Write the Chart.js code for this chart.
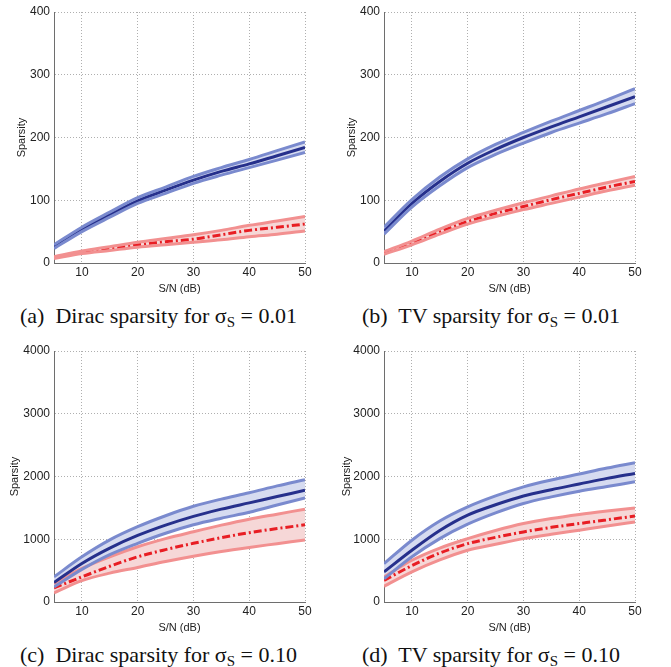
<!DOCTYPE html>
<html>

<head>
    <title>Sparsity vs S/N</title>
    <script src="https://cdn.jsdelivr.net/npm/chart.js@4.4.0/dist/chart.umd.min.js"></script>
    <style>
        body {
            margin: 0;
            background: #fff;
            font-family: "Liberation Sans", Arial, sans-serif;
        }

        .panel {
            position: absolute;
        }

        .caption {
            position: absolute;
            font-family: "Liberation Serif", "Times New Roman", serif;
            font-size: 22px;
            line-height: 24px;
            color: #111;
            white-space: nowrap;
        }

        .caption sub {
            font-size: 15px;
            vertical-align: -4px;
        }
    </style>
</head>

<body>
    <div class="panel" style="left: 0px; top: 0px;"><canvas id="chart-a" width="325" height="296"></canvas></div>
    <div class="panel" style="left: 330px; top: 0px;"><canvas id="chart-b" width="325" height="296"></canvas></div>
    <div class="panel" style="left: 0px; top: 339px;"><canvas id="chart-c" width="325" height="296"></canvas></div>
    <div class="panel" style="left: 330px; top: 339px;"><canvas id="chart-d" width="325" height="296"></canvas></div>

    <div class="caption" style="left: 20px; top: 304px;">(a)&nbsp; Dirac sparsity for &sigma;<sub>S</sub> = 0.01</div>
    <div class="caption" style="left: 362px; top: 304px;">(b)&nbsp; TV sparsity for &sigma;<sub>S</sub> = 0.01</div>
    <div class="caption" style="left: 20px; top: 643px;">(c)&nbsp; Dirac sparsity for &sigma;<sub>S</sub> = 0.10</div>
    <div class="caption" style="left: 362px; top: 643px;">(d)&nbsp; TV sparsity for &sigma;<sub>S</sub> = 0.10</div>

    <script>
        // S/N values (dB) and x tick labels
        var snr = [5, 10, 15, 20, 25, 30, 35, 40, 45, 50];
        var xTicks = [10, 20, 30, 40, 50];

        // (a) Dirac sparsity, sigma_S = 0.01
        var aBlueMean = [26, 53, 77, 99, 116, 132, 146, 158, 171, 184];
        var aBlueUpper = [29, 57, 81, 104, 121, 138, 152, 165, 179, 193];
        var aBlueLower = [23, 50, 73, 95, 111, 127, 140, 152, 164, 176];
        var aRedMean = [9, 17, 23, 29, 34, 38, 45, 52, 57, 62];
        var aRedUpper = [10, 19, 26, 33, 39, 45, 52, 60, 67, 74];
        var aRedLower = [7, 15, 20, 25, 29, 33, 37, 42, 46, 51];

        // (b) TV sparsity, sigma_S = 0.01
        var bBlueMean = [51, 95, 130, 159, 181, 200, 217, 233, 249, 265];
        var bBlueUpper = [57, 101, 137, 166, 189, 208, 226, 243, 260, 278];
        var bBlueLower = [46, 89, 123, 152, 173, 191, 208, 223, 238, 254];
        var bRedMean = [16, 32, 50, 66, 79, 90, 101, 111, 121, 130];
        var bRedUpper = [18, 35, 54, 71, 84, 96, 107, 118, 128, 138];
        var bRedLower = [14, 29, 46, 62, 74, 85, 95, 105, 115, 124];

        // (c) Dirac sparsity, sigma_S = 0.10
        var cBlueMean = [310, 615, 860, 1060, 1225, 1365, 1480, 1580, 1680, 1780];
        var cBlueUpper = [400, 720, 990, 1200, 1375, 1525, 1640, 1740, 1850, 1950];
        var cBlueLower = [240, 520, 755, 935, 1095, 1230, 1335, 1430, 1545, 1660];
        var cRedMean = [225, 400, 570, 720, 835, 935, 1025, 1105, 1170, 1230];
        var cRedUpper = [290, 535, 720, 880, 1010, 1120, 1225, 1320, 1400, 1480];
        var cRedLower = [145, 340, 460, 550, 645, 730, 805, 870, 930, 990];

        // (d) TV sparsity, sigma_S = 0.10
        var dBlueMean = [480, 825, 1140, 1385, 1550, 1690, 1790, 1880, 1970, 2050];
        var dBlueUpper = [610, 985, 1290, 1515, 1690, 1835, 1945, 2040, 2135, 2220];
        var dBlueLower = [370, 720, 1010, 1240, 1420, 1570, 1675, 1765, 1840, 1915];
        var dRedMean = [345, 580, 780, 930, 1030, 1117, 1190, 1250, 1310, 1370];
        var dRedUpper = [400, 665, 860, 1010, 1140, 1250, 1330, 1395, 1450, 1500];
        var dRedLower = [250, 480, 670, 825, 920, 1010, 1080, 1145, 1210, 1277];

        var blueEdge = 'rgb(122, 138, 206)';
        var blueFill = 'rgb(214, 219, 240)';
        var blueMean = 'rgb(38, 48, 140)';
        var redEdge = 'rgb(242, 144, 144)';
        var redFill = 'rgb(246, 215, 215)';
        var redMean = 'rgb(232, 30, 36)';

        var tickFont = { family: '"Liberation Sans", Arial, sans-serif', size: 12 };
        var gridColor = 'rgb(175, 175, 175)';
        var axisColor = 'rgb(110, 110, 110)';

        function toPoints(values) {
            return values.map(function(v, i) {
                return { x: snr[i], y: v };
            });
        }

        // upper edge fills down to the lower edge (next dataset)
        function band(upper, lower, edge, fill) {
            return [{
                data: toPoints(upper),
                borderColor: edge,
                backgroundColor: fill,
                borderWidth: 3,
                fill: '+1'
            }, {
                data: toPoints(lower),
                borderColor: edge,
                borderWidth: 3,
                fill: false
            }];
        }

        function makePanel(id, yMax, yStep, leftPad, blue, red) {
            var datasets = []
                .concat(band(blue[1], blue[2], blueEdge, blueFill))
                .concat([{
                    data: toPoints(blue[0]),
                    borderColor: blueMean,
                    borderWidth: 3,
                    fill: false
                }])
                .concat(band(red[1], red[2], redEdge, redFill))
                .concat([{
                    data: toPoints(red[0]),
                    borderColor: redMean,
                    borderWidth: 3,
                    borderDash: [8, 3, 2, 3],
                    fill: false
                }]);

            return new Chart(document.getElementById(id), {
                type: 'line',
                data: { datasets: datasets },
                options: {
                    responsive: false,
                    animation: false,
                    layout: { padding: { top: 12, right: 20, left: leftPad, bottom: 0 } },
                    elements: {
                        point: { radius: 0 },
                        line: { cubicInterpolationMode: 'monotone', borderCapStyle: 'butt' }
                    },
                    plugins: {
                        legend: { display: false },
                        tooltip: { enabled: false },
                        filler: { drawTime: 'beforeDatasetsDraw' }
                    },
                    scales: {
                        x: {
                            type: 'linear',
                            min: 5,
                            max: 50,
                            afterBuildTicks: function(scale) {
                                scale.ticks = xTicks.map(function(v) { return { value: v }; });
                            },
                            afterFit: function(scale) { scale.height = 33; },
                            grid: { color: gridColor, lineWidth: 1, drawTicks: false },
                            border: { display: true, color: axisColor, width: 1, dash: [1, 2] },
                            ticks: {
                                font: tickFont,
                                color: '#222',
                                padding: 2,
                                maxRotation: 0,
                                callback: function(v) { return String(v); }
                            },
                            title: {
                                display: true,
                                text: 'S/N (dB)',
                                font: { family: tickFont.family, size: 11 },
                                color: '#222',
                                padding: { top: 0, bottom: 0 }
                            }
                        },
                        y: {
                            min: 0,
                            max: yMax,
                            afterFit: function(scale) { scale.width = 54 - leftPad; },
                            grid: { color: gridColor, lineWidth: 1, drawTicks: false },
                            border: { display: true, color: axisColor, width: 1, dash: [1, 2] },
                            ticks: {
                                font: tickFont,
                                color: '#222',
                                padding: 4,
                                stepSize: yStep,
                                callback: function(v) { return String(v); }
                            },
                            title: {
                                display: true,
                                text: 'Sparsity',
                                font: { family: tickFont.family, size: 11 },
                                color: '#222',
                                padding: { top: 0, bottom: 0 }
                            }
                        }
                    }
                }
            });
        }

        makePanel('chart-a', 400, 100, 15, [aBlueMean, aBlueUpper, aBlueLower], [aRedMean, aRedUpper, aRedLower]);
        makePanel('chart-b', 400, 100, 15, [bBlueMean, bBlueUpper, bBlueLower], [bRedMean, bRedUpper, bRedLower]);
        makePanel('chart-c', 4000, 1000, 8, [cBlueMean, cBlueUpper, cBlueLower], [cRedMean, cRedUpper, cRedLower]);
        makePanel('chart-d', 4000, 1000, 10, [dBlueMean, dBlueUpper, dBlueLower], [dRedMean, dRedUpper, dRedLower]);
    </script>
</body>

</html>
